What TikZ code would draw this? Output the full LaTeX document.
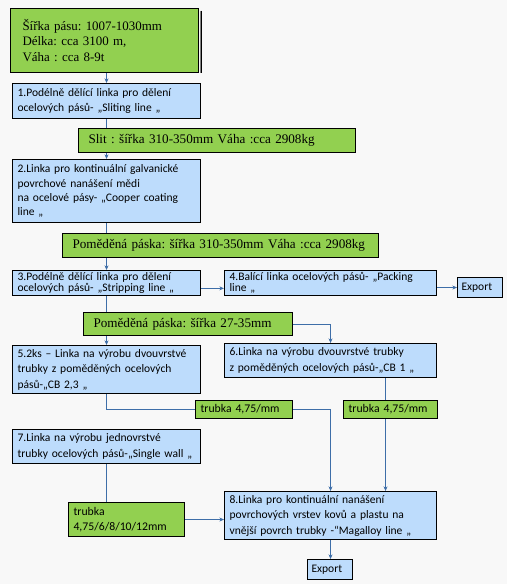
\documentclass[tikz,border=0pt]{standalone}
\usepackage{fontspec}
\setmainfont{Liberation Serif}
\newfontfamily\calibrifont{Carlito}
\usetikzlibrary{arrows.meta, positioning}
\definecolor{mygreen}{RGB}{146, 208, 80}
\definecolor{myblue}{RGB}{189, 220, 252}
\definecolor{mylink}{RGB}{62, 110, 168}
\definecolor{mybg}{RGB}{248, 248, 248}
\frenchspacing

\begin{document}
\begin{tikzpicture}[x=0.75pt, y=-0.75pt,
  box/.style={draw=black, line width=0.8pt, anchor=north west, align=left, inner ysep=0pt, inner xsep=3.75pt},
  stage/.style={box, fill=myblue, font=\calibrifont\fontsize{8.65}{11.6}\selectfont},
  output/.style={box, fill=mygreen, font=\fontsize{9.85}{11.6}\selectfont, inner xsep=7.5pt},
  tube/.style={box, fill=mygreen, font=\calibrifont\fontsize{8.8}{11.6}\selectfont},
  flow/.style={draw=mylink, line width=0.8pt},
  feed/.style={flow, -{Stealth[length=3.5pt, width=3pt]}}]
  % Background
  \fill[mybg] (0,0) rectangle (507,584);
  \useasboundingbox (0,0) rectangle (507,584);
  % Steel band and first line
  \node[output, text width=123pt, inner xsep=9pt, minimum height=48pt, font=\fontsize{9.7}{11.6}\selectfont] (band) at (10,8) {Šířka pásu: 1007-1030mm\\Délka: cca 3100 m,\\Váha : cca 8-9t};
  \draw[gray, line width=0.6pt] ([xshift=1pt, yshift=-2pt]band.north east) -- ([xshift=1pt]band.south east);
  \draw[black, line width=0.8pt] ([xshift=2pt, yshift=-2pt]band.north east) -- ([xshift=2pt]band.south east);
  \node[stage, text width=133.5pt, minimum height=26.25pt] (slitting) at (12,83) {1.Podélně dělící linka pro dělení\\ocelových pásů- „Sliting line „};
  \node[output, text width=192.75pt, minimum height=18pt] (slit) at (78,128) {Slit : šířka 310-350mm Váha :cca 2908kg};
  % Coating
  \node[stage, text width=133.5pt, minimum height=47.25pt, font=\calibrifont\fontsize{8.65}{10.7}\selectfont] (coating) at (12,159) {2.Linka pro kontinuální galvanické\\povrchové nanášení mědi\\na ocelové pásy- „Cooper coating\\line „};
  \node[output, text width=222pt, minimum height=18pt] (coated) at (62,233) {Poměděná páska: šířka 310-350mm Váha :cca 2908kg};
  % Stripping and packing
  \node[stage, text width=133.5pt, minimum height=18.75pt, font=\calibrifont\fontsize{8.65}{8.4}\selectfont] (stripping) at (12,270) {3.Podélně dělící linka pro dělení\\ocelových pásů- „Stripping line „};
  \node[stage, text width=151.5pt, minimum height=18.75pt, font=\calibrifont\fontsize{8.65}{8.4}\selectfont] (packing) at (224,270) {4.Balící linka ocelových pásů- „Packing\\line „};
  \node[stage, minimum height=15pt, inner xsep=3pt, text width=27.75pt] (exportA) at (457,277) {Export};
  \node[output, text width=141.75pt, minimum height=17.25pt] (strip) at (83,312) {Poměděná páska: šířka 27-35mm};
  % Tube lines
  \node[stage, text width=133.5pt, minimum height=36pt] (cbtwo) at (12,345) {5.2ks – Linka na výrobu dvouvrstvé\\trubky z poměděných ocelových\\pásů-„CB 2,3 „};
  \node[stage, text width=151.5pt, minimum height=25.5pt] (cbone) at (224,343) {6.Linka na výrobu dvouvrstvé trubky\\z poměděných ocelových pásů-„CB 1 „};
  \node[tube, text width=65.25pt, minimum height=13.5pt] (tubetwo) at (195,400) {trubka 4,75/mm};
  \node[tube, text width=63pt, minimum height=13.5pt] (tubeone) at (343,400) {trubka 4,75/mm};
  \node[stage, text width=133.5pt, minimum height=25.5pt] (single) at (12,429) {7.Linka na výrobu jednovrstvé\\trubky ocelových pásů-„Single wall „};
  \node[tube, text width=79.5pt, minimum height=25.5pt] (tubesingle) at (68,502) {trubka\\4,75/6/8/10/12mm};
  % Magalloy
  \node[stage, text width=151.5pt, minimum height=36pt] (magalloy) at (224,491) {8.Linka pro kontinuální nanášení\\povrchových vrstev kovů a plastu na\\vnější povrch trubky -“Magalloy line „};
  \node[stage, minimum height=15pt, inner xsep=3pt, text width=27.75pt] (exportB) at (307,559) {Export};
  % Connectors
  \draw[feed] (slitting.north |- band.south) -- (slitting.north);
  \draw[flow] (slitting.south) -- (slitting.south |- slit.north);
  \draw[feed] (slitting.south |- slit.south) -- (coating.north);
  \draw[flow] (coating.south) -- (coating.south |- coated.north);
  \draw[feed] (coating.south |- coated.south) -- (stripping.north);
  \draw[feed] ([yshift=-4pt]stripping.east) -- ([yshift=-4pt]stripping.east -| packing.west);
  \draw[feed] (packing.east |- exportA.west) -- (exportA.west);
  \draw[flow] (stripping.south) -- (stripping.south |- strip.north);
  \draw[feed] (stripping.south |- strip.south) -- (cbtwo.north);
  \draw[feed] (strip.east) -| (cbone.north);
  \draw[flow] (cbtwo.south) |- (tubetwo.west);
  \draw[feed] (tubetwo.east) -| (magalloy.north);
  \draw[flow] ([xshift=-3.75pt]tubeone.north |- cbone.south) -- ([xshift=-3.75pt]tubeone.north);
  \draw[feed] ([xshift=-3.75pt]tubeone.south) -- ([xshift=-3.75pt]tubeone.south |- magalloy.north);
  \draw[flow] (single.south) -- (single.south |- tubesingle.north);
  \draw[feed] (tubesingle.east) -- (tubesingle.east -| magalloy.west);
  \draw[feed] (magalloy.south) -- (magalloy.south |- exportB.north);
\end{tikzpicture}
\end{document}
